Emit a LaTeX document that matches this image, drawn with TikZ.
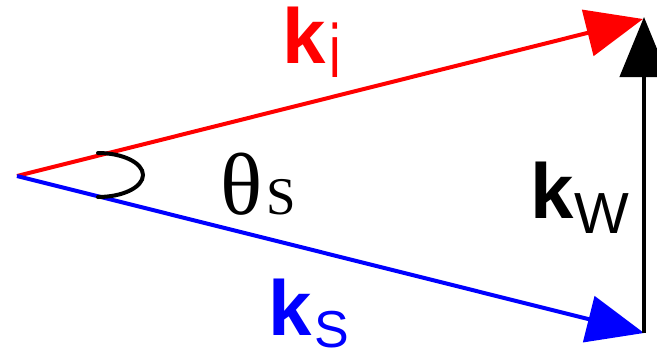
\documentclass[tikz,border=0pt]{standalone}
\usepackage{fontspec}
\setmainfont{Liberation Sans}
\newfontfamily\serifgr{Liberation Serif}
\usetikzlibrary{arrows.meta}
\definecolor{kred}{RGB}{255,0,0}
\definecolor{kblue}{RGB}{0,0,255}
\begin{document}
\begin{tikzpicture}[x=1pt,y=-1pt,
  vec/.style={line width=4pt,-{Triangle[length=57pt,width=47pt]}},
  lbl/.style={anchor=base west,inner sep=0pt,outer sep=0pt},
]
\useasboundingbox (0,0) rectangle (657,351);
\coordinate (O) at (17,176);
\coordinate (TI) at (643,19);
\coordinate (TS) at (644,333);
\draw[vec,kred] (O) -- (TI);
\draw[vec,kblue] (O) -- (TS);
\draw[line width=4.5pt,-{Triangle[length=60pt,width=48pt]}] (TS) -- (644,17) coordinate (TW);
\draw[line width=4pt,line cap=round] (98,153) arc[start angle=90,end angle=-90,x radius=45pt,y radius=22pt] coordinate (arcend);
% labels
\node[lbl,text=kred] (ki) at (282,63) {{\fontsize{78}{80}\selectfont\bfseries k}\hspace{4pt}\raisebox{-14pt}[0pt][0pt]{\fontsize{52}{54}\selectfont\scalebox{1}[1.45]{i}}};
\node[lbl,text=kblue] (ks) at (268,335) {{\fontsize{78}{80}\selectfont\bfseries k}\hspace{3pt}\raisebox{-12pt}[0pt][0pt]{\fontsize{52}{54}\selectfont S}};
\node[lbl] (kw) at (530,218) {{\fontsize{78}{80}\selectfont\bfseries k}\hspace{1pt}\raisebox{-15pt}[0pt][0pt]{\fontsize{58}{60}\selectfont W}};
\node[lbl] (th) at (220,214) {\serifgr{\fontsize{88}{90}\selectfont θ}\hspace{4pt}{\fontsize{53}{55}\selectfont S}};
\end{tikzpicture}
\end{document}
